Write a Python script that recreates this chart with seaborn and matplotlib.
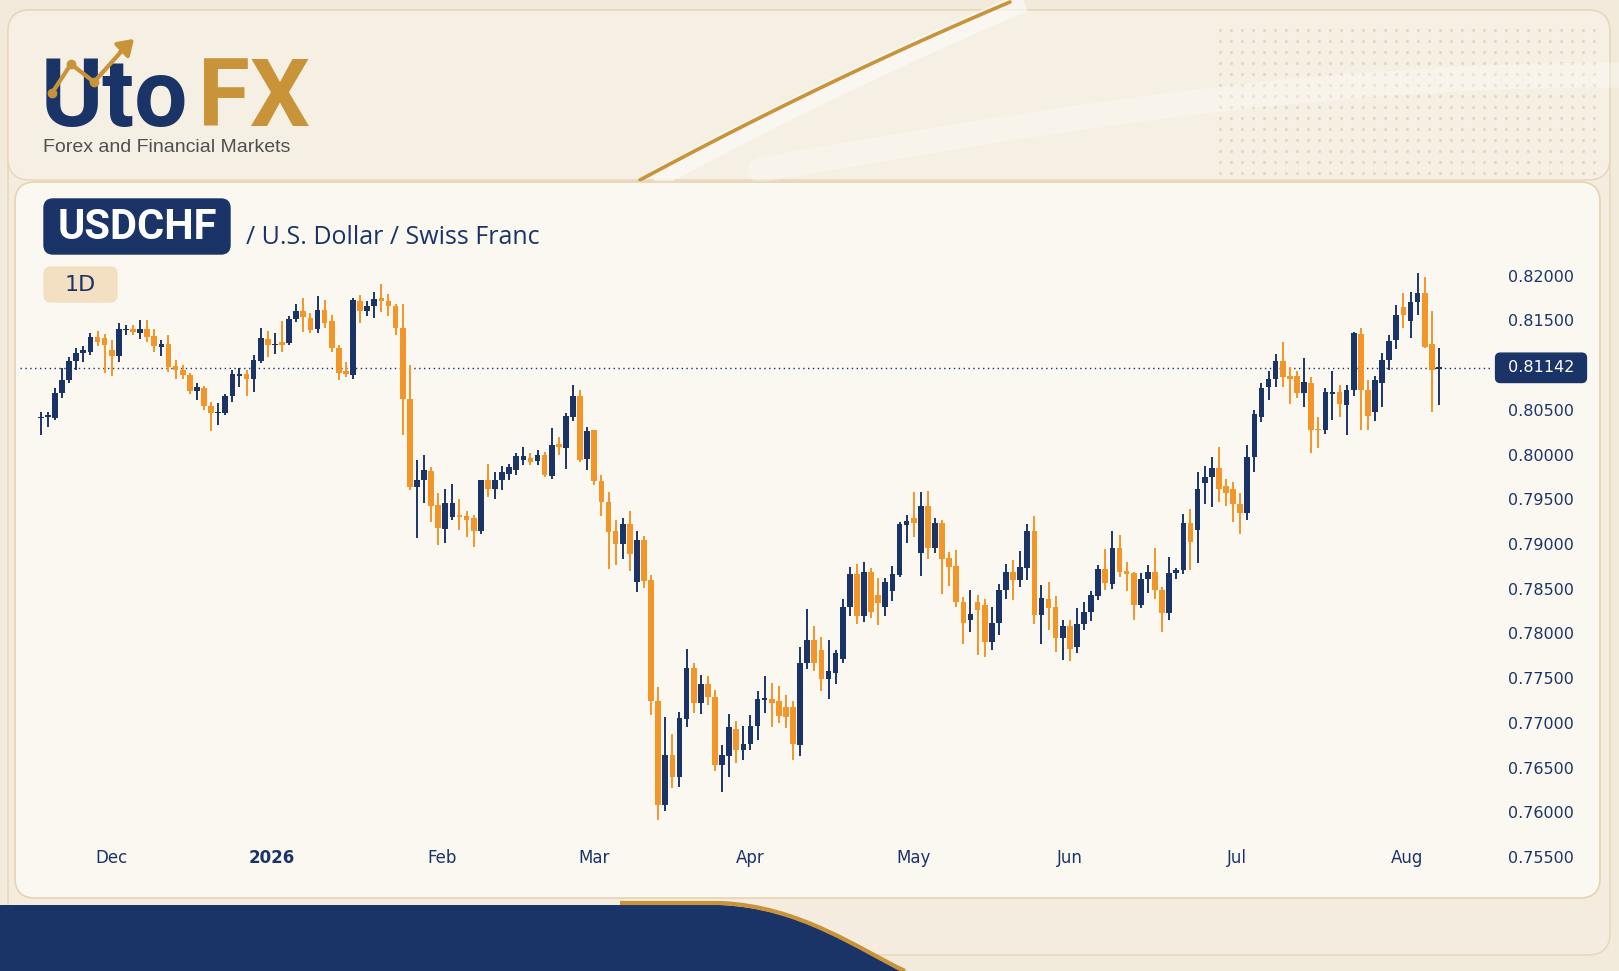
import numpy as np
import matplotlib
matplotlib.use("Agg")
import matplotlib.pyplot as plt
import matplotlib.transforms as mtransforms
from matplotlib.patches import FancyBboxPatch, PathPatch
from matplotlib.path import Path
import seaborn as sns

# ---- data: USDCHF daily candles ----
opens = [
    .8041, .8042, .8041, .8069, .8083, .8105, .8114, .8115, .8131, .8130,
    .8117, .8110, .8139, .8140, .8136, .8140, .8133, .8120, .8124, .8099,
    .8095, .8089, .8071, .8074, .8054, .8047, .8047, .8065, .8088, .8090,
    .8084, .8105, .8129, .8122, .8126, .8125, .8152, .8160, .8153, .8140,
    .8162, .8149, .8119, .8093, .8089, .8172, .8161, .8166, .8175, .8172,
    .8166, .8141, .8062, .7964, .7972, .7982, .7944, .7917, .7930, .7932,
    .7931, .7929, .7915, .7971, .7961, .7972, .7978, .7983, .7994, .7996,
    .7993, .7999, .7976, .8012, .8007, .8042, .8065, .7995, .8027, .7970,
    .7947, .7914, .7900, .7922, .7857, .7904, .7860, .7724, .7608, .7664,
    .7640, .7704, .7761, .7722, .7744, .7729, .7653, .7663, .7693, .7670,
    .7676, .7696, .7726, .7727, .7724, .7718, .7718, .7675, .7767, .7793,
    .7781, .7749, .7756, .7771, .7829, .7866, .7819, .7869, .7843, .7829,
    .7847, .7865, .7921, .7929, .7890, .7943, .7895, .7924, .7884, .7875,
    .7835, .7815, .7835, .7832, .7790, .7812, .7848, .7869, .7860, .7873,
    .7914, .7821, .7839, .7830, .7795, .7808, .7785, .7811, .7824, .7842,
    .7872, .7855, .7896, .7870, .7868, .7832, .7861, .7869, .7848, .7823,
    .7868, .7871, .7923, .7916, .7968, .7975, .7985, .7965, .7962, .7945,
    .7935, .7997, .8042, .8076, .8085, .8105, .8088, .8088, .8069, .8080,
    .8029, .8027, .8068, .8070, .8055, .8072, .8135, .8072, .8048, .8080,
    .8106, .8128, .8165, .8149, .8171, .8181, .8124, .8096,
]
highs = [
    .8048, .8048, .8074, .8097, .8109, .8119, .8121, .8136, .8138, .8135,
    .8128, .8147, .8145, .8145, .8151, .8150, .8140, .8128, .8134, .8106,
    .8100, .8091, .8080, .8077, .8059, .8058, .8068, .8094, .8097, .8095,
    .8111, .8141, .8138, .8136, .8149, .8155, .8168, .8175, .8158, .8177,
    .8173, .8156, .8123, .8104, .8175, .8178, .8172, .8182, .8191, .8180,
    .8168, .8168, .8100, .7994, .7999, .7986, .7957, .7962, .7967, .7950,
    .7937, .7932, .7972, .7989, .7980, .7987, .7990, .8002, .8009, .8002,
    .8005, .8003, .8030, .8020, .8046, .8078, .8072, .8031, .8028, .7977,
    .7958, .7927, .7929, .7937, .7915, .7909, .7865, .7740, .7706, .7688,
    .7712, .7783, .7767, .7754, .7752, .7737, .7675, .7710, .7702, .7696,
    .7709, .7736, .7752, .7745, .7741, .7731, .7724, .7785, .7827, .7808,
    .7796, .7793, .7782, .7839, .7874, .7878, .7880, .7873, .7862, .7862,
    .7875, .7925, .7932, .7958, .7958, .7959, .7929, .7927, .7891, .7893,
    .7841, .7848, .7843, .7839, .7829, .7855, .7878, .7882, .7892, .7922,
    .7931, .7854, .7858, .7842, .7815, .7815, .7828, .7835, .7847, .7876,
    .7894, .7914, .7910, .7880, .7869, .7868, .7877, .7896, .7852, .7886,
    .7873, .7933, .7939, .7981, .7987, .7997, .8009, .7973, .7969, .7957,
    .8011, .8050, .8080, .8093, .8113, .8126, .8098, .8093, .8108, .8087,
    .8042, .8074, .8093, .8078, .8078, .8137, .8141, .8083, .8088, .8114,
    .8134, .8167, .8181, .8182, .8203, .8198, .8160, .8119,
]
lows = [
    .8022, .8031, .8039, .8063, .8080, .8095, .8103, .8111, .8121, .8091,
    .8088, .8104, .8134, .8134, .8129, .8126, .8115, .8110, .8092, .8084,
    .8084, .8068, .8061, .8050, .8026, .8033, .8044, .8059, .8076, .8065,
    .8070, .8102, .8109, .8113, .8115, .8122, .8148, .8137, .8136, .8136,
    .8142, .8115, .8083, .8087, .8084, .8147, .8155, .8153, .8159, .8155,
    .8134, .8022, .7960, .7907, .7946, .7925, .7899, .7901, .7927, .7916,
    .7908, .7897, .7911, .7953, .7950, .7960, .7972, .7977, .7988, .7988,
    .7988, .7975, .7973, .7999, .7984, .8037, .7992, .7983, .7966, .7931,
    .7872, .7876, .7883, .7870, .7846, .7851, .7709, .7591, .7601, .7627,
    .7628, .7695, .7711, .7710, .7720, .7646, .7623, .7640, .7655, .7659,
    .7670, .7681, .7711, .7695, .7700, .7694, .7658, .7663, .7760, .7758,
    .7736, .7727, .7743, .7767, .7819, .7811, .7813, .7817, .7809, .7819,
    .7836, .7863, .7901, .7908, .7864, .7883, .7890, .7844, .7853, .7829,
    .7788, .7802, .7776, .7774, .7782, .7798, .7838, .7837, .7852, .7860,
    .7811, .7788, .7804, .7779, .7770, .7769, .7778, .7804, .7814, .7837,
    .7848, .7850, .7863, .7847, .7815, .7828, .7845, .7839, .7802, .7815,
    .7861, .7866, .7871, .7879, .7945, .7941, .7947, .7942, .7925, .7911,
    .7927, .7980, .8036, .8061, .8076, .8076, .8057, .8063, .8053, .8002,
    .8007, .8023, .8039, .8042, .8022, .8065, .8027, .8027, .8037, .8053,
    .8095, .8118, .8141, .8130, .8156, .8119, .8048, .8055,
]
closes = [
    .8042, .8044, .8069, .8083, .8105, .8114, .8117, .8132, .8126, .8123,
    .8110, .8140, .8140, .8137, .8140, .8132, .8121, .8124, .8098, .8094,
    .8089, .8071, .8075, .8054, .8047, .8048, .8065, .8090, .8090, .8084,
    .8106, .8130, .8122, .8124, .8122, .8152, .8160, .8154, .8139, .8162,
    .8147, .8119, .8091, .8090, .8173, .8161, .8166, .8174, .8172, .8166,
    .8141, .8062, .7964, .7972, .7983, .7942, .7918, .7946, .7946, .7930,
    .7927, .7915, .7971, .7962, .7972, .7981, .7986, .7998, .7998, .7992,
    .8000, .7977, .8011, .8008, .8043, .8065, .7994, .8026, .7970, .7947,
    .7913, .7900, .7922, .7889, .7904, .7859, .7724, .7608, .7664, .7640,
    .7705, .7761, .7722, .7744, .7729, .7653, .7664, .7695, .7670, .7676,
    .7696, .7727, .7728, .7722, .7708, .7707, .7676, .7767, .7793, .7767,
    .7749, .7758, .7778, .7830, .7866, .7819, .7869, .7824, .7834, .7857,
    .7866, .7922, .7926, .7924, .7943, .7895, .7924, .7883, .7874, .7835,
    .7812, .7822, .7826, .7790, .7812, .7849, .7869, .7860, .7874, .7914,
    .7821, .7840, .7828, .7795, .7808, .7783, .7811, .7824, .7843, .7872,
    .7856, .7896, .7869, .7867, .7832, .7861, .7869, .7848, .7823, .7868,
    .7871, .7923, .7902, .7962, .7975, .7985, .7962, .7957, .7945, .7935,
    .7997, .8045, .8074, .8085, .8105, .8087, .8084, .8069, .8081, .8027,
    .8027, .8070, .8070, .8056, .8072, .8136, .8072, .8043, .8083, .8106,
    .8127, .8156, .8156, .8171, .8181, .8120, .8095, .8098,
]

month_labels = ["Dec", "2026", "Feb", "Mar", "Apr", "May", "Jun", "Jul", "Aug"]
month_candle = [10, 32.5, 56.5, 78, 100, 123, 145, 168.5, 192.5]
# 0.81000 is hidden by the last-price tag in the original
price_ticks = [0.755, 0.760, 0.765, 0.770, 0.775, 0.780, 0.785, 0.790,
               0.795, 0.800, 0.805, 0.815, 0.820]
price_line = 0.8097
price_label = "0.81142"

# ---- styling ----
NAVY = "#1b3468"
ORANGE = "#f3962a"
GOLD = "#c9933a"
BG = "#f2eadb"
PANEL = "#fbf8f1"
EDGE = "#e6d3b2"

W, H = 1619, 971
sns.set_theme(style="white")
plt.rcParams["font.family"] = ["DejaVu Sans"]

fig = plt.figure(figsize=(W / 100, H / 100), dpi=100, facecolor=BG)
px = mtransforms.IdentityTransform()


def rbox(x0, y0, x1, y1, r, fc, ec, lw=1.0, z=0):
    p = FancyBboxPatch((x0, H - y1), x1 - x0, y1 - y0,
                       boxstyle=f"round,pad=0,rounding_size={r}",
                       fc=fc, ec=ec, lw=lw, transform=px, zorder=z)
    fig.add_artist(p)


def ftext(x, y, s, **kw):
    fig.text(x / W, 1 - y / H, s, **kw)


# outer frame + header
rbox(8, 10, 1610, 955, 22, "#f4ecde", "#e7d6b8", 1.0)
rbox(8, 10, 1610, 180, 22, "#f6efe3", "#e7d6b8", 1.0)

# faint dot texture top right
gx, gy = np.meshgrid(np.arange(1220, 1600, 11), np.arange(30, 175, 11))
fig.add_artist(plt.Line2D(gx.ravel(), H - gy.ravel(), ls="none", marker="o",
                          ms=1.5, color="#dccdb0", alpha=0.5, transform=px))

# swoosh in header
t = np.linspace(0, 1, 60)
sx = 640 + 370 * t
sy = 180 - 178 * (t + 0.12 * t * (1 - t))
fig.add_artist(plt.Line2D(sx + 14, H - sy, lw=14, color="white", alpha=0.55,
                          transform=px, solid_capstyle="butt"))
fig.add_artist(plt.Line2D(sx, H - sy, lw=2.6, color=GOLD, transform=px))
bx = 760 + 860 * t
by = 170 - 95 * np.sin(t * np.pi / 2)
fig.add_artist(plt.Line2D(bx, H - by, lw=18, color="white", alpha=0.3,
                          transform=px))

# bottom navy band with gold edge
verts = [(0, H - 905), (720, H - 905), (800, H - 908), (860, H - 950),
         (900, H - 971), (0, H - 971), (0, H - 905)]
codes = [Path.MOVETO, Path.LINETO, Path.CURVE4, Path.CURVE4, Path.CURVE4,
         Path.LINETO, Path.CLOSEPOLY]
fig.add_artist(PathPatch(Path(verts, codes), fc=NAVY, ec="none",
                         transform=px, zorder=1))
edge = Path([(620, H - 903), (720, H - 903), (800, H - 906), (860, H - 950),
             (905, H - 971)],
            [Path.MOVETO, Path.LINETO, Path.CURVE4, Path.CURVE4, Path.CURVE4])
fig.add_artist(PathPatch(edge, fc="none", ec=GOLD, lw=3, transform=px,
                         zorder=2))

# main panel
rbox(15, 182, 1600, 898, 20, PANEL, EDGE, 1.2, z=3)

# logo
ftext(41, 126, "Uto", fontsize=68, fontweight="bold", color=NAVY,
      family=["Roboto", "DejaVu Sans"], va="baseline", zorder=5)
ftext(198, 126, "FX", fontsize=68, fontweight="bold", color=GOLD,
      family=["Roboto", "DejaVu Sans"], va="baseline", zorder=5)
lx = np.array([52, 71, 94, 128])
ly = np.array([93, 64, 82, 44])
fig.add_artist(plt.Line2D(lx, H - ly, lw=3, color=GOLD, marker="o", ms=6,
                          markevery=[0, 1, 2], transform=px, zorder=6))
fig.add_artist(matplotlib.patches.FancyArrowPatch(
    (118, H - 54), (136, H - 37), arrowstyle="-|>,head_length=9,head_width=6",
    color=GOLD, lw=3, transform=px, zorder=6))
ftext(43, 148, "Forex and Financial Markets", fontsize=14, color="#505050",
      family=["Liberation Sans", "DejaVu Sans"], va="center", zorder=5)

# symbol header
rbox(44, 199, 230, 254, 9, NAVY, NAVY, 1, z=4)
ftext(137, 227, "USDCHF", fontsize=30, fontweight="bold", color="white",
      family=["Roboto", "DejaVu Sans"], ha="center", va="center", zorder=5)
ftext(246, 237, "/ U.S. Dollar / Swiss Franc", fontsize=18, color=NAVY,
      family=["Open Sans", "DejaVu Sans"], va="center", zorder=5)
rbox(44, 267, 117, 302, 7, "#f3e0c2", "#f3e0c2", 1, z=4)
ftext(80, 285, "1D", fontsize=16, color=NAVY, ha="center", va="center",
      zorder=5)

# ---- candles ----
ax = fig.add_axes([20 / W, 1 - 875 / H, 1470 / W, 625 / H], zorder=10)
ax.set_facecolor("none")
o = np.array(opens)
h = np.array(highs)
l = np.array(lows)
c = np.array(closes)
idx = np.arange(len(o))
pal = sns.color_palette([NAVY, ORANGE])
cols = [pal[0] if cc >= oo else pal[1] for oo, cc in zip(o, c)]

ax.vlines(idx, l, h, colors=cols, lw=1.4, zorder=2)
ax.bar(idx, np.maximum(np.abs(c - o), 0.0001), bottom=np.minimum(o, c),
       width=0.8, color=cols, linewidth=0, zorder=3)
ax.axhline(price_line, color=NAVY, lw=1.0, ls=(0, (1, 2.5)), zorder=1)

ax.set_xlim(-2.92, len(o) - 1 + 7.2)
ax.set_ylim(0.752987, 0.822874)
ax.set_xticks([])
ax.yaxis.tick_right()
ax.set_yticks(price_ticks)
ax.set_yticklabels([f"{v:.5f}" for v in price_ticks])
ax.tick_params(axis="y", length=0, pad=13, labelsize=11.5, labelcolor=NAVY)
sns.despine(ax=ax, left=True, bottom=True, right=True, top=True)
ax.grid(False)

tr = ax.get_xaxis_transform()
for pos, lab in zip(month_candle, month_labels):
    ax.text(pos, 0.0272, lab, transform=tr, ha="center", va="center",
            fontsize=12, color=NAVY,
            fontweight="bold" if lab == "2026" else "normal")

ax.text(1.0347, price_line, " " + price_label + " ",
        transform=mtransforms.blended_transform_factory(ax.transAxes,
                                                        ax.transData),
        ha="center", va="center", fontsize=11.5, color="white",
        bbox=dict(boxstyle="round,pad=0.45,rounding_size=0.3", fc=NAVY,
                  ec=NAVY), clip_on=False, zorder=12)

fig.savefig("out.png", dpi=100, facecolor=BG)
